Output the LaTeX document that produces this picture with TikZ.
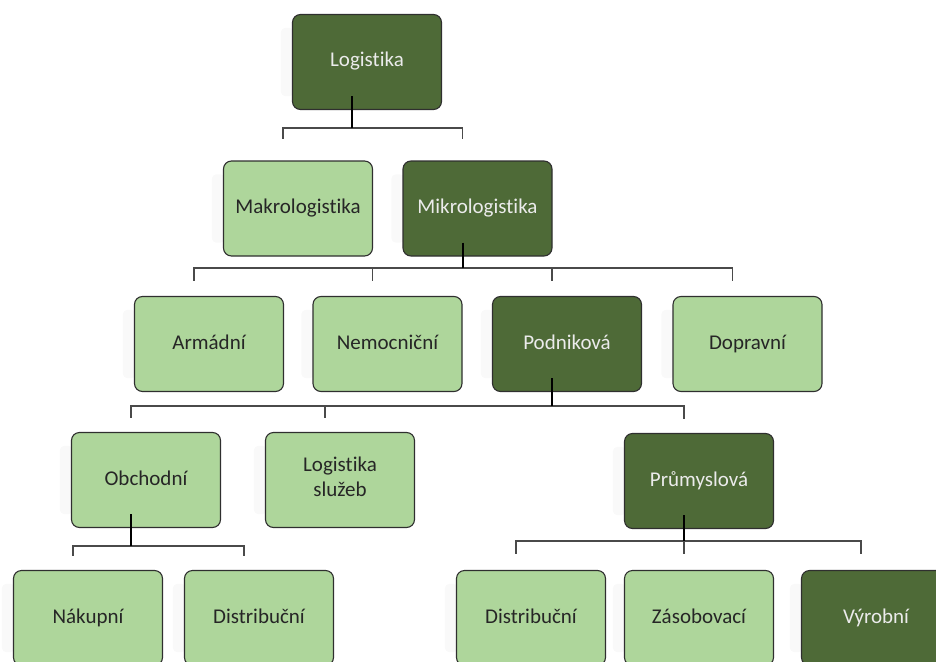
\documentclass[tikz,border=0pt]{standalone}
\usepackage{fontspec}
\setmainfont{Carlito}[Ligatures=NoCommon]
\usetikzlibrary{calc,backgrounds}
\definecolor{lightgr}{HTML}{AED69B}
\definecolor{darkgr}{HTML}{4E6A37}
\definecolor{edgegr}{HTML}{2F2F2F}
\definecolor{bargr}{HTML}{4A4A4A}
\tikzset{
  box/.style={draw=edgegr, line width=1.1pt, rounded corners=8pt,
    minimum width=149pt, minimum height=95pt, inner sep=2pt,
    align=center, font=\fontsize{21}{25}\selectfont,
    execute at begin node=\strut},
  lbox/.style={box, fill=lightgr, text=black!85},
  dbox/.style={box, fill=darkgr, text=white!92!black},
  stem/.style={line width=2pt, black},
  bar/.style={line width=1.1pt, bargr},
  ghost/.style={fill=gray!5, rounded corners=4pt},
}
\begin{document}
\begin{tikzpicture}[x=1pt,y=-1pt]
\useasboundingbox (0,0) rectangle (936,661);

% level 0
\node[dbox] (logi) at (367,62) {Logistika};
% level 1
\node[lbox] (makro) at (298,208.5) {Makrologistika};
\node[dbox] (mikro) at (477.5,208.5) {Mikrologistika};
% level 2
\node[lbox] (arm) at (209,344) {Armádní};
\node[lbox] (nem) at (387.5,344) {Nemocniční};
\node[dbox] (pod) at (567,344) {Podniková};
\node[lbox] (dop) at (747.5,344) {Dopravní};
% level 3
\node[lbox] (obch) at (146,480) {Obchodní};
\node[lbox] (sluz) at (340,480) {Logistika\\služeb};
\node[dbox] (prum) at (699,481) {Průmyslová};
% level 4
\node[lbox] (nak) at (88,618) {Nákupní};
\node[lbox] (dista) at (259,618) {Distribuční};
\node[lbox] (distb) at (531,618) {Distribuční};
\node[lbox] (zas) at (699,618) {Zásobovací};
\node[dbox] (vyr) at (876,618) {Výrobní};

% soft shadows on the left of each box
\begin{scope}[on background layer]
  \foreach \n in {logi,makro,mikro,arm,nem,pod,dop,obch,sluz,prum,nak,dista,distb,zas,vyr}
    \fill[ghost] ([xshift=-11pt,yshift=-14pt]\n.north west) rectangle ([xshift=2pt,yshift=14pt]\n.south west);
\end{scope}

% bar heights
\coordinate (y1) at (0,128);
\coordinate (y2) at (0,268);
\coordinate (y3) at (0,406);
\coordinate (y4) at (0,546);
\coordinate (y5) at (0,541);

% connectors: one branch per child, then the parent's stem on top
\coordinate (bar1) at ([xshift=-15pt]logi.south |- y1);
\foreach \c in {makro,mikro}
  \draw[bar] (bar1) -| ([xshift=-15pt,yshift=21pt]\c.north);
\draw[stem] ([xshift=-15pt,yshift=14pt]logi.south) -- (bar1);

\coordinate (bar2) at ([xshift=-15pt]mikro.south |- y2);
\foreach \c in {arm,nem,pod,dop}
  \draw[bar] (bar2) -| ([xshift=-15pt,yshift=15pt]\c.north);
\draw[stem] ([xshift=-15pt,yshift=14pt]mikro.south) -- (bar2);

\coordinate (bar3) at ([xshift=-15pt]pod.south |- y3);
\foreach \c in {obch,sluz,prum}
  \draw[bar] (bar3) -| ([xshift=-15pt,yshift=14pt]\c.north);
\draw[stem] ([xshift=-15pt,yshift=14pt]pod.south) -- (bar3);

\coordinate (bar4) at ([xshift=-15pt]obch.south |- y4);
\foreach \c in {nak,dista}
  \draw[bar] (bar4) -| ([xshift=-15pt,yshift=14pt]\c.north);
\draw[stem] ([xshift=-15pt,yshift=14pt]obch.south) -- (bar4);

\coordinate (bar5) at ([xshift=-15pt]prum.south |- y5);
\foreach \c in {distb,zas,vyr}
  \draw[bar] (bar5) -| ([xshift=-15pt,yshift=16pt]\c.north);
\draw[stem] ([xshift=-15pt,yshift=14pt]prum.south) -- (bar5);
\end{tikzpicture}
\end{document}
